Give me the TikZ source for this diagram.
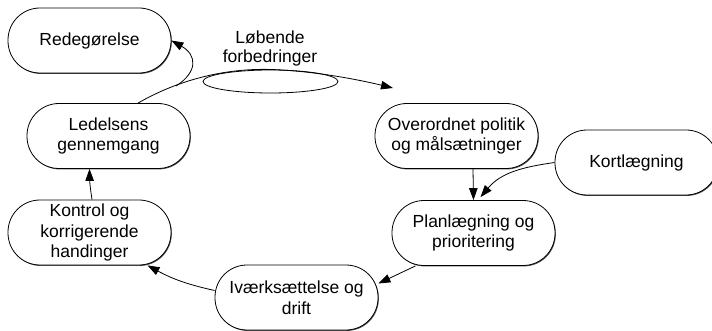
\documentclass[tikz,border=0pt]{standalone}
\usepackage{fontspec}
\setmainfont{Liberation Sans}
\usetikzlibrary{arrows.meta,shadows,shapes.geometric}
\begin{document}
\begin{tikzpicture}[x=1pt,y=-1pt,
  box/.style={draw, line width=0.8pt, rounded corners=32pt, minimum width=163pt,
    minimum height=65pt, align=center, inner sep=0pt, fill=white,
    font=\fontsize{17.5}{20.5}\selectfont,
    drop shadow={shadow xshift=0.8pt, shadow yshift=-0.9pt, fill=black!70, opacity=1}},
  conn/.style={line width=0.8pt, -{Triangle[length=12pt,width=8.5pt]}},
  lbl/.style={align=center, inner sep=0pt, font=\fontsize{17.5}{19}\selectfont}]
\useasboundingbox (0,0) rectangle (712,331);
\node[box] (rede) at (89.5,40.5) {Redegørelse};
\node[box] (led) at (108.5,136) {Ledelsens\\gennemgang};
\node[box] (ov) at (456.5,136) {Overordnet politik\\og målsætninger};
\node[box] (kort) at (636.5,162.5) {Kortlægning};
\node[box] (plan) at (473.5,233) {Planlægning og\\prioritering};
\node[box] (iv) at (296.5,297.5) {Iværksættelse og\\drift};
\node[box] (kon) at (89.5,232.5) {Kontrol og\\korrigerende\\handinger};
\node[draw, ellipse, line width=0.8pt, minimum width=135pt, minimum height=23pt, inner sep=0pt] (ell) at (270.5,81.5) {};
\node[lbl] (lab) at (270,48) {Løbende\\forbedringer};
\coordinate (ovtip) at (393,88);
\coordinate (br) at (176,86);
\draw[conn] ([xshift=29.5pt]led.north) .. controls (178,80) and (225,68) .. (271,69.5)
  .. controls (315,71) and (360,80) .. (ovtip);
\draw[conn] (br) .. controls (198,72) and (197,55) .. (rede.east);
\draw[conn] ([xshift=16.5pt]ov.south) -- (plan.north);
\draw[conn] (kort.west) to[out=188,in=50] ([xshift=7pt,yshift=3pt]plan.north);
\draw[conn] ([xshift=-58pt]plan.south) -- ([yshift=14pt]iv.east);
\draw[conn] ([yshift=7pt]iv.west) to[bend left=8] ([xshift=58pt]kon.south);
\draw[conn] ([xshift=2.5pt]kon.north) to[bend left=4] ([xshift=-19pt]led.south);
\end{tikzpicture}
\end{document}
